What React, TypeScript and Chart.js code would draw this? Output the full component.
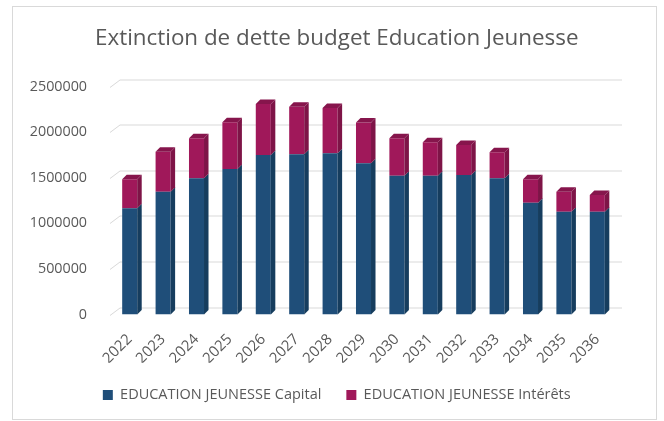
import { useEffect, useRef } from 'react';
import { Chart, registerables } from 'chart.js';

Chart.register(...registerables);

const years = ['2022', '2023', '2024', '2025', '2026', '2027', '2028', '2029', '2030', '2031', '2032', '2033', '2034', '2035', '2036'];
const capital = [1165000, 1347000, 1494000, 1597000, 1751000, 1759000, 1770000, 1660000, 1523000, 1523000, 1531000, 1494000, 1226000, 1127000, 1127000];
const interets = [320000, 440000, 441000, 514000, 560000, 520000, 495000, 447000, 412000, 368000, 330000, 287000, 257000, 220000, 184000];
const yTicks = [0, 500000, 1000000, 1500000, 2000000, 2500000];

const FONT = '"Open Sans", sans-serif';
const TEXT = '#595959';
const GRID = '#d9d9d9';

const FACE = [
  { side: '#163d5e', top: '#2a5c86' },
  { side: '#7e1447', top: '#86154c' },
];

const frame3d = {
  id: 'frame3d',
  beforeDraw(chart: any) {
    const { ctx, width, height } = chart;
    ctx.save();
    ctx.fillStyle = '#ffffff';
    ctx.fillRect(0, 0, width, height);
    ctx.strokeStyle = GRID;
    ctx.lineWidth = 1;
    ctx.strokeRect(12.5, 6.5, 644, 413);
    ctx.restore();
  },
  beforeDatasetsDraw(chart: any) {
    const { ctx, chartArea, scales } = chart;
    const y = scales.y;
    ctx.save();
    ctx.strokeStyle = GRID;
    ctx.lineWidth = 1;
    for (const v of yTicks) {
      const py = Math.round(y.getPixelForValue(v)) + 0.5;
      ctx.beginPath();
      ctx.moveTo(chartArea.left - 3, py);
      ctx.lineTo(chartArea.left + 7, py - 7.5);
      ctx.lineTo(chartArea.right + 8, py - 7.5);
      ctx.stroke();
    }
    ctx.restore();
  },
  afterDatasetsDraw(chart: any) {
    const { ctx } = chart;
    const dx = 4.5;
    const dy = 4.5;
    const n = chart.data.datasets.length;
    ctx.save();
    for (let di = 0; di < n; di++) {
      const meta = chart.getDatasetMeta(di);
      meta.data.forEach((el: any) => {
        const { x, y, base, width } = el.getProps(['x', 'y', 'base', 'width'], true);
        const l = x - width / 2;
        const r = x + width / 2;
        ctx.fillStyle = FACE[di].side;
        ctx.beginPath();
        ctx.moveTo(r, y);
        ctx.lineTo(r + dx, y - dy);
        ctx.lineTo(r + dx, base - dy);
        ctx.lineTo(r, base);
        ctx.closePath();
        ctx.fill();
        if (di === n - 1) {
          ctx.fillStyle = FACE[di].top;
          ctx.beginPath();
          ctx.moveTo(l, y);
          ctx.lineTo(l + dx, y - dy);
          ctx.lineTo(r + dx, y - dy);
          ctx.lineTo(r, y);
          ctx.closePath();
          ctx.fill();
        }
      });
    }
    ctx.restore();
  },
};

export default function App() {
  const ref = useRef<HTMLCanvasElement>(null);
  useEffect(() => {
    if (!ref.current) return;
    const chart = new Chart(ref.current, {
      type: 'bar',
      data: {
        labels: years,
        datasets: [
          {
            label: 'EDUCATION JEUNESSE Capital',
            data: capital,
            backgroundColor: '#1f4e79',
            borderWidth: 0,
            categoryPercentage: 1,
            barPercentage: 0.45,
          },
          {
            label: 'EDUCATION JEUNESSE Intérêts',
            data: interets,
            backgroundColor: '#a0185a',
            borderWidth: 0,
            categoryPercentage: 1,
            barPercentage: 0.45,
          },
        ],
      },
      options: {
        animation: false,
        responsive: false,
        devicePixelRatio: 1,
        layout: { padding: { left: 9.5, right: 0, top: 0, bottom: 8.75 } },
        plugins: {
          title: {
            display: true,
            text: 'Extinction de dette budget Education Jeunesse',
            color: TEXT,
            font: { family: FONT, size: 22.4, weight: 'normal', lineHeight: 1.2 },
            padding: { top: 25.6, bottom: 34.2 },
          },
          legend: {
            position: 'bottom',
            labels: {
              boxWidth: 10,
              boxHeight: 10,
              padding: 25,
              color: TEXT,
              font: { family: FONT, size: 14.5 },
            },
          },
          tooltip: { enabled: false },
        },
        scales: {
          x: {
            stacked: true,
            grid: { display: false },
            border: { display: false },
            ticks: {
              color: TEXT,
              font: { family: FONT, size: 15 },
              minRotation: 45,
              maxRotation: 45,
              autoSkip: false,
              padding: 8,
            },
            afterFit: (s: any) => {
              s.height = 48.25;
            },
          },
          y: {
            stacked: true,
            min: 0,
            max: 2500000,
            grid: { display: false },
            border: { display: false },
            afterBuildTicks: (s: any) => {
              s.ticks = yTicks.map((v) => ({ value: v }));
            },
            ticks: {
              color: TEXT,
              font: { family: FONT, size: 14.3 },
              padding: 18,
              callback: (v: any) => String(v),
            },
            afterFit: (s: any) => {
              s.width = 103.5;
            },
          },
          yR: {
            position: 'right',
            display: true,
            grid: { display: false },
            border: { display: false },
            ticks: { display: false },
            afterFit: (s: any) => {
              s.width = 50;
            },
          },
        },
      },
      plugins: [frame3d],
    });
    return () => chart.destroy();
  }, []);
  return (
    <div style={{ position: 'fixed', left: 0, top: 0, width: 664, height: 421, background: '#fff' }}>
      <canvas ref={ref} width={664} height={421} style={{ display: 'block', width: 664, height: 421 }} />
    </div>
  );
}
